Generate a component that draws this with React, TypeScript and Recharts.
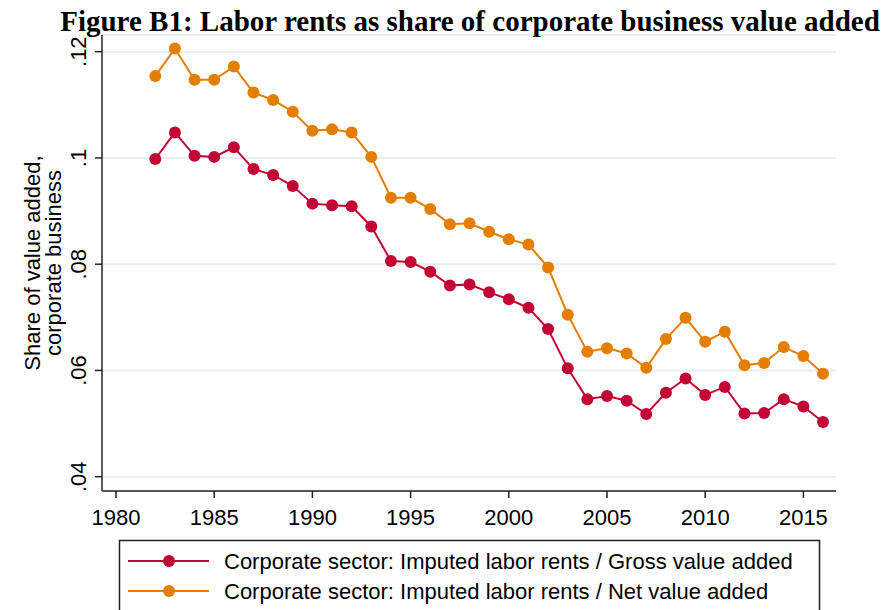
import { CartesianGrid, Line, LineChart, XAxis, YAxis } from "recharts"

// Years and the two shares
const years = [
  1982, 1983, 1984, 1985, 1986, 1987, 1988, 1989, 1990, 1991, 1992, 1993, 1994, 1995, 1996, 1997, 1998,
  1999, 2000, 2001, 2002, 2003, 2004, 2005, 2006, 2007, 2008, 2009, 2010, 2011, 2012, 2013, 2014, 2015, 2016,
]
const grossShare = [
  0.0998, 0.1048, 0.1004, 0.1002, 0.102, 0.0979, 0.0968, 0.0947, 0.0914, 0.0911, 0.0909, 0.0871, 0.0806,
  0.0804, 0.0786, 0.076, 0.0762, 0.0747, 0.0734, 0.0718, 0.0678, 0.0604, 0.0546, 0.0552, 0.0543, 0.0518,
  0.0558, 0.0585, 0.0554, 0.0569, 0.0519, 0.052, 0.0546, 0.0532, 0.0503,
]
const netShare = [
  0.1154, 0.1206, 0.1147, 0.1147, 0.1172, 0.1123, 0.1109, 0.1087, 0.1051, 0.1054, 0.1048, 0.1002, 0.0925,
  0.0925, 0.0904, 0.0875, 0.0877, 0.0861, 0.0847, 0.0837, 0.0794, 0.0705, 0.0635, 0.0642, 0.0632, 0.0605,
  0.0659, 0.0699, 0.0654, 0.0673, 0.061, 0.0614, 0.0644, 0.0627, 0.0594,
]
const xTicks = [1980, 1985, 1990, 1995, 2000, 2005, 2010, 2015]
const yTicks = [0.04, 0.06, 0.08, 0.1, 0.12]

const seriesNames = [
  "Corporate sector: Imputed labor rents / Gross value added",
  "Corporate sector: Imputed labor rents / Net value added",
]

const RED = "#C10534"
const ORANGE = "#E37E00"
const SANS = "Arial, 'Liberation Sans', sans-serif"
const FS = 22

const chartData = years.map((year, i) => ({
  year,
  gross: grossShare[i],
  net: netShare[i],
}))

// Stata style: ".12", ".1", ".08"
const fmtShare = (v: number) => {
  const s = String(Number(v.toFixed(3)))
  return s.startsWith("0") ? s.slice(1) : s
}

const YTick = (props: any) => {
  const { y, payload } = props
  return (
    <text
      x={86}
      y={y}
      transform={`rotate(-90, 86, ${y})`}
      textAnchor="middle"
      fontSize={FS}
      fontFamily={SANS}
      fill="#000"
    >
      {fmtShare(payload.value)}
    </text>
  )
}

const XTick = (props: any) => {
  const { x, payload } = props
  return (
    <text x={x} y={525} textAnchor="middle" fontSize={FS} fontFamily={SANS} fill="#000">
      {payload.value}
    </text>
  )
}

export default function App() {
  return (
    <div style={{ position: "absolute", left: 0, top: 0, width: 894, height: 610, overflow: "hidden", background: "#fff" }}>
      <LineChart
        width={894}
        height={610}
        data={chartData}
        margin={{ top: 35, right: 58, left: 0, bottom: 0 }}
      >
        <CartesianGrid horizontal vertical={false} stroke="#E6EEF1" strokeWidth={2} />
        <XAxis
          dataKey="year"
          type="number"
          domain={[1979.287, 2016.66]}
          allowDataOverflow
          ticks={xTicks}
          tick={<XTick />}
          tickSize={7}
          height={119}
          axisLine={{ stroke: "#222", strokeWidth: 1.5 }}
          tickLine={{ stroke: "#222", strokeWidth: 1.5 }}
        />
        <YAxis
          type="number"
          domain={[0.03731, 0.12314]}
          allowDataOverflow
          ticks={yTicks}
          tick={<YTick />}
          tickSize={7}
          width={102}
          axisLine={{ stroke: "#222", strokeWidth: 1.5 }}
          tickLine={{ stroke: "#222", strokeWidth: 1.5 }}
        />
        <Line
          dataKey="gross"
          stroke={RED}
          strokeWidth={2}
          dot={{ r: 6, fill: RED, stroke: RED, strokeWidth: 0 }}
          isAnimationActive={false}
        />
        <Line
          dataKey="net"
          stroke={ORANGE}
          strokeWidth={2}
          dot={{ r: 6, fill: ORANGE, stroke: ORANGE, strokeWidth: 0 }}
          isAnimationActive={false}
        />
      </LineChart>

      {/* title, y label and legend box on top of the chart */}
      <svg width={894} height={610} style={{ position: "absolute", left: 0, top: 0, pointerEvents: "none" }}>
        <text
          x={470}
          y={31}
          textAnchor="middle"
          fontSize={29}
          fontWeight="bold"
          fontFamily="'Times New Roman', 'Liberation Serif', serif"
          fill="#000"
        >
          Figure B1: Labor rents as share of corporate business value added
        </text>
        <text transform="rotate(-90, 40, 263)" x={40} y={263} textAnchor="middle" fontSize={FS} fontFamily={SANS}>
          Share of value added,
        </text>
        <text transform="rotate(-90, 61, 263)" x={61} y={263} textAnchor="middle" fontSize={FS} fontFamily={SANS}>
          corporate business
        </text>

        <rect x={119.5} y={540.5} width={700} height={80} fill="#fff" stroke="#222" strokeWidth={1.5} />
        {seriesNames.map((name, i) => {
          const cy = 561 + i * 30
          const color = i === 0 ? RED : ORANGE
          return (
            <g key={name}>
              <line x1={128} x2={209} y1={cy} y2={cy} stroke={color} strokeWidth={2} />
              <circle cx={169} cy={cy} r={6} fill={color} />
              <text x={224} y={cy + 8} fontSize={FS} fontFamily={SANS} fill="#000">
                {name}
              </text>
            </g>
          )
        })}
      </svg>
    </div>
  )
}
